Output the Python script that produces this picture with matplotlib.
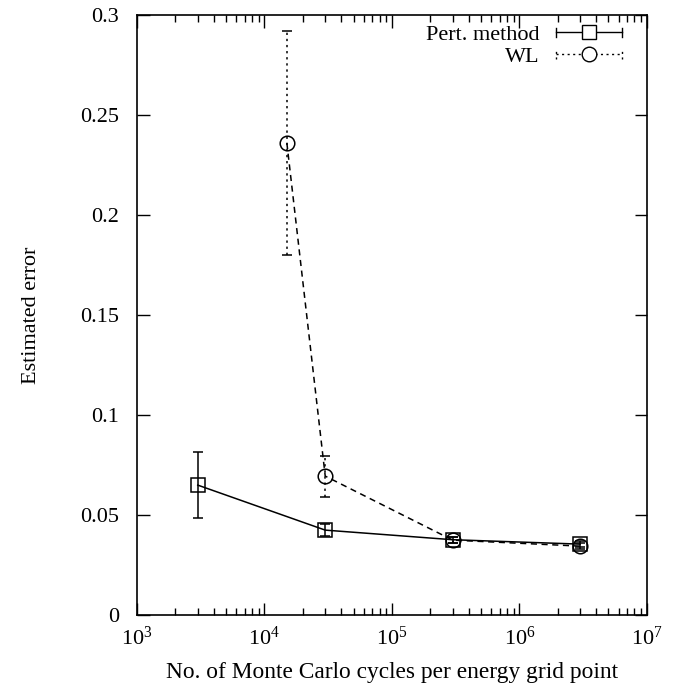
import matplotlib
matplotlib.use("Agg")
import matplotlib.pyplot as plt
from matplotlib.legend_handler import HandlerBase
from matplotlib.lines import Line2D
from matplotlib.ticker import LogLocator, NullFormatter

plt.rcParams['font.family'] = ['Liberation Serif', 'DejaVu Serif']
plt.rcParams['mathtext.fontset'] = 'stix'

# data
pert_x = [3e3, 3e4, 3e5, 3e6]
pert_y = [0.065, 0.0425, 0.0377, 0.0355]
pert_err = [0.0165, 0.003, 0.0015, 0.0015]

wl_x = [1.5e4, 3e4, 3e5, 3e6]
wl_y = [0.236, 0.0695, 0.0375, 0.0345]
wl_err = [0.056, 0.0103, 0.0015, 0.0015]

labels = ['Pert. method', 'WL']
yticks = [0, 0.05, 0.1, 0.15, 0.2, 0.25, 0.3]
ytick_labels = ['0', '0.05', '0.1', '0.15', '0.2', '0.25', '0.3']


class ErrKey(HandlerBase):
    # gnuplot-like key: line with end caps and a marker in the middle
    def __init__(self, ls, marker):
        super().__init__()
        self.ls = ls
        self.marker = marker

    def create_artists(self, legend, orig_handle, xdescent, ydescent,
                       width, height, fontsize, trans):
        y = height / 2 - ydescent
        x0, x1 = -xdescent, width - xdescent
        cap = height * 0.3
        arts = [
            Line2D([x0, x1], [y, y], color='k', lw=1.0, ls=self.ls),
            Line2D([x0, x0], [y - cap, y + cap], color='k', lw=1.0, ls=self.ls),
            Line2D([x1, x1], [y - cap, y + cap], color='k', lw=1.0, ls=self.ls),
            Line2D([(x0 + x1) / 2], [y], marker=self.marker, ms=10.5,
                   mfc='white', mec='k', mew=1.0, ls='none'),
        ]
        for a in arts:
            a.set_transform(trans)
        return arts


fig = plt.figure(figsize=(6.78, 6.85), dpi=100)
ax = fig.add_axes([0.202, 0.102, 0.752, 0.876])

# Pert. method
ax.errorbar(pert_x, pert_y, yerr=pert_err, fmt='none', ecolor='k',
            elinewidth=1.1, capsize=3.5, capthick=1.1, zorder=2)
h1, = ax.plot(pert_x, pert_y, color='k', lw=1.1, marker='s', ms=10.5,
              mfc='none', mec='k', mew=1.1, zorder=3)

# WL
eb = ax.errorbar(wl_x, wl_y, yerr=wl_err, fmt='none', ecolor='k',
                 elinewidth=1.1, capsize=3.5, capthick=1.1, zorder=2)
for c in eb[2]:
    c.set_linestyle((0, (1.5, 2.5)))
h2, = ax.plot(wl_x, wl_y, color='k', lw=1.1, ls=(0, (4, 3)), marker='o',
              ms=10.5, mfc='none', mec='k', mew=1.1, zorder=3)

ax.set_xscale('log')
ax.set_xlim(1e3, 1e7)
ax.set_ylim(0, 0.3)
ax.set_yticks(yticks)
ax.set_yticklabels(ytick_labels)
ax.xaxis.set_major_locator(LogLocator(base=10, numticks=10))
ax.xaxis.set_minor_locator(LogLocator(base=10, subs=range(2, 10), numticks=20))
ax.xaxis.set_minor_formatter(NullFormatter())

ax.tick_params(which='both', direction='in', top=True, right=True,
               labelsize=16, width=1.0)
ax.tick_params(axis='y', pad=13)
ax.tick_params(axis='x', pad=8)
ax.tick_params(which='major', length=9)
ax.tick_params(which='minor', length=5)
for s in ax.spines.values():
    s.set_linewidth(1.2)

ax.set_xlabel('No. of Monte Carlo cycles per energy grid point', fontsize=16.8,
              labelpad=9)
ax.set_ylabel('Estimated error', fontsize=16, labelpad=28)

leg = ax.legend([h1, h2], labels, loc='upper right', frameon=False,
                fontsize=16, handlelength=2.97, handletextpad=0.72,
                markerfirst=False, labelspacing=0.05,
                borderpad=0, borderaxespad=0,
                bbox_to_anchor=(0.951, 0.984),
                handler_map={h1: ErrKey('-', 's'), h2: ErrKey((0, (1.5, 2.5)), 'o')})
for t in leg.get_texts():
    t.set_ha('right')

fig.savefig('out.png', dpi=100)
